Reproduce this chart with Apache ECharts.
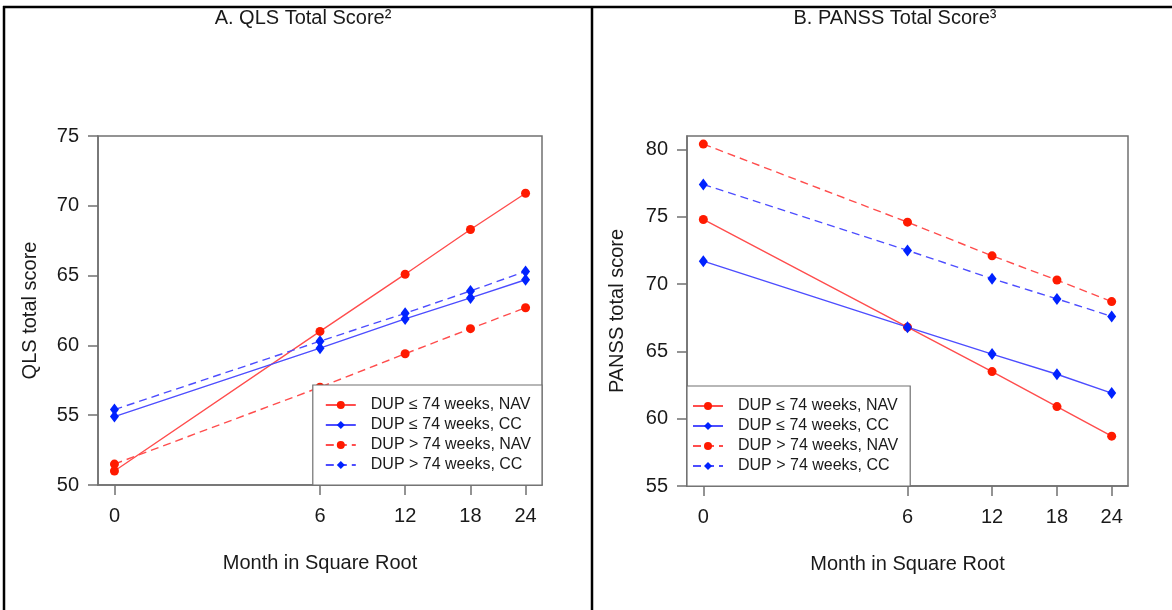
<!DOCTYPE html>
<html>
<head>
<meta charset="utf-8">
<script src="https://cdn.jsdelivr.net/npm/echarts@6/dist/echarts.min.js"></script>
<style>
html,body{margin:0;padding:0;background:#fff;}
#chart{width:1172px;height:610px;}
</style>
</head>
<body>
<div id="chart"></div>
<script>
// ---- data ----
const months = [0, 6, 12, 18, 24];
const seriesNames = ['DUP ≤ 74 weeks, NAV', 'DUP ≤ 74 weeks, CC', 'DUP > 74 weeks, NAV', 'DUP > 74 weeks, CC'];
const qlsShortNAV = [51.0, 61.0, 65.1, 68.3, 70.9];
const qlsShortCC  = [54.9, 59.8, 61.9, 63.4, 64.7];
const qlsLongNAV  = [51.5, 57.0, 59.4, 61.2, 62.7];
const qlsLongCC   = [55.4, 60.3, 62.3, 63.9, 65.3];
const panssShortNAV = [74.8, 66.8, 63.5, 60.9, 58.7];
const panssShortCC  = [71.7, 66.8, 64.8, 63.3, 61.9];
const panssLongNAV  = [80.4, 74.6, 72.1, 70.3, 68.7];
const panssLongCC   = [77.4, 72.5, 70.4, 68.9, 67.6];
const qlsTicks = [50, 55, 60, 65, 70, 75];
const panssTicks = [55, 60, 65, 70, 75, 80];
const titleA = 'A. QLS Total Score²';
const titleB = 'B. PANSS Total Score³';

// ---- build ----
const FONT = '"Liberation Sans", Arial, sans-serif';
const sq = m => Math.sqrt(m);
const xTickVals = months.map(sq);
const xMin = -0.04 * Math.sqrt(24), xMax = Math.sqrt(24) * 1.04;
const axisGray = '#707070';

function pts(vals) { return months.map((m, i) => [sq(m), vals[i]]); }

function xAxisCfg(gi) {
  return {
    gridIndex: gi, type: 'value', min: xMin, max: xMax,
    name: 'Month in Square Root', nameLocation: 'middle', nameGap: 68,
    nameTextStyle: {fontFamily: FONT, fontSize: 20, color: '#1a1a1a'},
    axisLine: {show: true, onZero: false, lineStyle: {color: axisGray, width: 1.5}},
    axisTick: {show: true, inside: false, length: 10, customValues: xTickVals, lineStyle: {color: axisGray, width: 1.5}},
    axisLabel: {customValues: xTickVals, margin: 21, fontFamily: FONT, fontSize: 20, color: '#1a1a1a',
      formatter: v => String(Math.round(v * v))},
    splitLine: {show: false}
  };
}
function yAxisCfg(gi, mn, mx, ticks, name, gap) {
  return {
    gridIndex: gi, type: 'value', min: mn, max: mx,
    name: name, nameLocation: 'middle', nameGap: gap, nameRotate: 90,
    nameTextStyle: {fontFamily: FONT, fontSize: 20, color: '#1a1a1a'},
    axisLine: {show: true, onZero: false, lineStyle: {color: axisGray, width: 1.5}},
    axisTick: {show: true, inside: false, length: 10, customValues: ticks, lineStyle: {color: axisGray, width: 1.5}},
    axisLabel: {customValues: ticks, margin: 19, fontFamily: FONT, fontSize: 20, color: '#1a1a1a'},
    splitLine: {show: false}
  };
}
const RED_LINE = '#ff4d4d', RED_PT = '#ff1a00', BLUE_LINE = '#4d4dff', BLUE_PT = '#0022ff';
function ser(name, gi, vals, isRed, dashed) {
  return {
    name: name, type: 'line', xAxisIndex: gi, yAxisIndex: gi,
    data: pts(vals),
    symbol: isRed ? 'circle' : 'diamond',
    symbolSize: isRed ? 9 : [9, 12],
    showAllSymbol: true,
    lineStyle: {color: isRed ? RED_LINE : BLUE_LINE, width: 1.4, type: dashed ? [8, 5] : 'solid'},
    itemStyle: {color: isRed ? RED_PT : BLUE_PT, borderWidth: 0},
    emphasis: {disabled: true},
    animation: false
  };
}
function legendCfg(pos) {
  return Object.assign({
    orient: 'vertical', data: seriesNames,
    itemWidth: 30, itemHeight: 10, itemGap: 4,
    backgroundColor: '#fff', borderColor: axisGray, borderWidth: 1.2,
    textStyle: {fontFamily: FONT, fontSize: 16, color: '#1a1a1a', padding: [0, 0, 0, 10]},
    selectedMode: false
  }, pos);
}

const chart = echarts.init(document.getElementById('chart'), null, {renderer: 'canvas'});
chart.setOption({
  backgroundColor: '#fff',
  animation: false,
  title: [
    {text: titleA, left: 298, top: 3, textAlign: 'center', textStyle: {fontFamily: FONT, fontSize: 20, fontWeight: 'normal', color: '#1a1a1a'}},
    {text: titleB, left: 890, top: 3, textAlign: 'center', textStyle: {fontFamily: FONT, fontSize: 20, fontWeight: 'normal', color: '#1a1a1a'}}
  ],
  grid: [
    {left: 98, top: 136, width: 444, height: 349, show: true, borderColor: axisGray, borderWidth: 1.5, containLabel: false},
    {left: 687, top: 136, width: 441, height: 350, show: true, borderColor: axisGray, borderWidth: 1.5, containLabel: false}
  ],
  xAxis: [xAxisCfg(0), xAxisCfg(1)],
  yAxis: [
    yAxisCfg(0, 50, 75, qlsTicks, 'QLS total score', 58),
    yAxisCfg(1, 55, 81, panssTicks, 'PANSS total score', 60)
  ],
  legend: [
    legendCfg({right: 630, bottom: 125, padding: [12, 11, 12, 12]}),
    legendCfg({left: 687, bottom: 124, padding: [12, 12, 12, 5]})
  ],
  series: [
    ser(seriesNames[0], 0, qlsShortNAV, true, false),
    ser(seriesNames[1], 0, qlsShortCC, false, false),
    ser(seriesNames[2], 0, qlsLongNAV, true, true),
    ser(seriesNames[3], 0, qlsLongCC, false, true),
    ser(seriesNames[0], 1, panssShortNAV, true, false),
    ser(seriesNames[1], 1, panssShortCC, false, false),
    ser(seriesNames[2], 1, panssLongNAV, true, true),
    ser(seriesNames[3], 1, panssLongCC, false, true)
  ],
  graphic: [
    {type: 'line', shape: {x1: 4, y1: 6, x2: 4, y2: 610}, style: {stroke: '#000', lineWidth: 2.5}, silent: true},
    {type: 'line', shape: {x1: 3, y1: 7, x2: 1172, y2: 7}, style: {stroke: '#000', lineWidth: 2.5}, silent: true},
    {type: 'line', shape: {x1: 592, y1: 7, x2: 592, y2: 610}, style: {stroke: '#000', lineWidth: 2.5}, silent: true}
  ]
});
</script>
</body>
</html>
